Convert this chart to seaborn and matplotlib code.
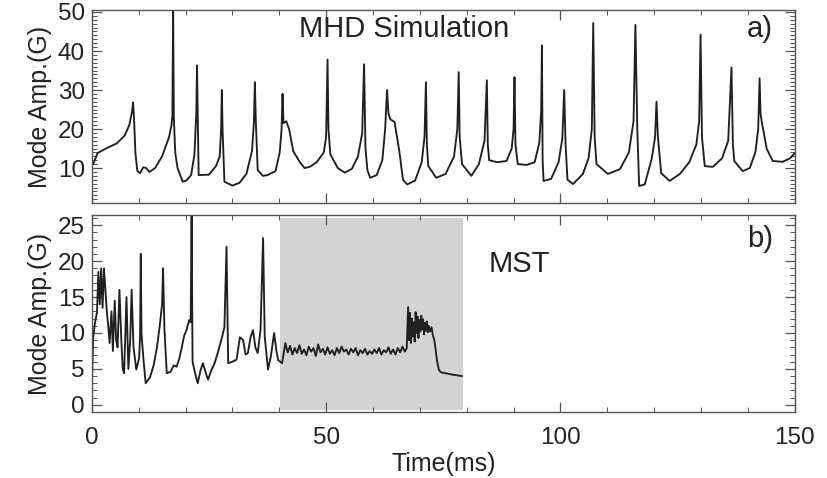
import numpy as np
import pandas as pd
import matplotlib
matplotlib.use("Agg")
import matplotlib.pyplot as plt
from matplotlib.ticker import MultipleLocator
import seaborn as sns


# DATA

# panel a) MHD simulation
mhd_time = [
    0.3, 1.2, 3.0, 5.3, 7.0, 8.0, 8.6, 8.8, 9.0, 9.3,
    9.7, 10.3, 11.0, 11.6, 12.3, 13.5, 15.0, 16.5, 17.0, 17.2,
    17.35, 17.5, 17.8, 18.3, 19.4, 20.2, 21.2, 21.9, 22.3, 22.45,
    22.6, 22.8, 25.0, 26.5, 27.3, 27.6, 27.75, 27.9, 28.3, 30.0,
    31.5, 33.0, 34.2, 34.6, 34.8, 35.0, 35.4, 36.5, 37.5, 39.2,
    40.1, 40.5, 40.7, 40.9, 41.5, 42.1, 43.0, 44.4, 45.4, 46.5,
    48.0, 49.5, 50.0, 50.3, 50.5, 50.9, 52.5, 54.0, 55.5, 56.8,
    57.7, 58.1, 58.4, 58.8, 59.4, 60.8, 62.0, 62.6, 63.0, 63.3,
    63.7, 64.6, 65.6, 66.4, 67.3, 69.0, 70.4, 71.0, 71.3, 71.5,
    71.8, 73.5, 75.5, 77.3, 78.0, 78.3, 78.5, 79.0, 81.0, 82.6,
    83.8, 84.3, 84.5, 84.8, 86.5, 88.5, 89.6, 90.0, 90.2, 90.4,
    90.9, 92.8, 94.5, 95.5, 95.9, 96.05, 96.2, 96.4, 98.0, 99.6,
    100.4, 100.8, 101.1, 101.5, 102.7, 104.8, 106.0, 106.7, 107.0, 107.3,
    107.7, 108.4, 110.1, 112.7, 114.6, 115.6, 116.0, 116.4, 116.8, 118.0,
    119.5, 120.2, 120.5, 120.8, 121.5, 123.3, 125.5, 127.5, 129.0, 129.6,
    129.9, 130.2, 130.8, 132.5, 134.5, 135.8, 136.5, 136.8, 137.1, 138.9,
    140.4, 141.6, 142.2, 142.5, 142.7, 143.0, 143.4, 144.0, 145.3, 147.4,
    149.0, 150.0,
]
mhd_amp = [
    11.0, 13.8, 15.0, 16.3, 18.3, 21.0, 24.5, 26.8, 23.0, 14.0,
    9.3, 8.7, 10.2, 10.0, 9.0, 10.0, 13.0, 18.0, 21.0, 23.5,
    52.0, 23.0, 14.0, 10.0, 6.5, 6.8, 8.2, 13.5, 24.0, 36.3,
    24.0, 8.2, 8.3, 10.5, 13.0, 20.0, 30.0, 20.0, 6.5, 5.5,
    6.2, 8.5, 14.5, 22.0, 32.0, 22.0, 9.5, 8.0, 8.2, 9.2,
    14.0, 20.0, 29.0, 21.5, 22.0, 20.0, 14.3, 11.5, 10.0, 10.3,
    11.5, 14.0, 18.0, 37.8, 20.0, 13.5, 10.0, 8.8, 9.8, 13.0,
    19.0, 36.6, 15.0, 9.5, 7.5, 8.2, 12.0, 20.0, 30.0, 24.0,
    22.5, 21.8, 14.5, 7.0, 5.8, 6.8, 11.5, 18.0, 32.0, 16.0,
    10.5, 7.5, 8.5, 13.0, 20.0, 34.6, 18.0, 11.0, 8.0, 11.0,
    17.0, 32.5, 16.0, 12.0, 11.5, 11.8, 15.0, 20.0, 33.3, 16.0,
    11.0, 10.8, 11.5, 16.5, 25.0, 41.4, 12.0, 6.7, 7.2, 11.5,
    17.5, 30.0, 16.0, 7.0, 5.9, 8.5, 12.5, 20.0, 47.2, 18.0,
    11.0, 10.3, 8.5, 9.7, 14.0, 22.0, 46.7, 20.0, 5.4, 5.8,
    12.5, 18.0, 27.0, 18.0, 8.7, 6.7, 8.5, 11.5, 16.0, 22.0,
    44.2, 18.0, 10.5, 10.3, 12.5, 17.0, 35.8, 16.0, 11.8, 9.2,
    10.0, 14.0, 20.0, 33.0, 24.0, 21.5, 19.0, 15.0, 11.8, 11.6,
    12.5, 13.8,
]

# panel b) MST measurement
mst_time = [
    0.0, 0.3, 0.7, 1.1, 1.4, 1.7, 2.0, 2.3, 2.6, 2.9,
    3.2, 3.5, 3.8, 4.2, 4.5, 4.9, 5.2, 5.5, 5.9, 6.3,
    6.6, 6.9, 7.4, 7.8, 8.2, 8.5, 8.9, 9.5, 10.1, 10.3,
    10.45, 10.6, 11.0, 11.5, 12.4, 13.2, 13.9, 14.5, 15.0, 15.2,
    15.5, 16.0, 16.8, 17.5, 18.1, 18.7, 19.2, 19.7, 20.2, 20.8,
    21.1, 21.3, 21.5, 22.0, 22.6, 23.2, 23.7, 24.3, 24.8, 25.5,
    26.2, 27.0, 27.7, 28.3, 28.75, 29.1, 30.0, 30.9, 31.6, 32.3,
    32.8, 33.3, 33.9, 34.4, 34.9, 35.4, 36.0, 36.55, 36.9, 37.6,
    38.2, 38.9, 39.4, 39.8, 40.6, 41.3, 41.8, 42.3, 42.8, 43.3,
    43.8, 44.3, 44.8, 45.3, 45.8, 46.3, 46.8, 47.3, 47.8, 48.3,
    48.8, 49.3, 49.8, 50.3, 50.8, 51.3, 51.8, 52.3, 52.8, 53.3,
    53.8, 54.3, 54.8, 55.3, 55.8, 56.3, 56.8, 57.3, 57.8, 58.3,
    58.8, 59.3, 59.8, 60.3, 60.8, 61.3, 61.8, 62.3, 62.8, 63.3,
    63.8, 64.3, 64.8, 65.3, 65.8, 66.3, 66.8, 67.2, 67.5, 67.7,
    67.9, 68.1, 68.3, 68.5, 68.7, 68.9, 69.1, 69.3, 69.5, 69.7,
    69.9, 70.1, 70.3, 70.5, 70.7, 70.9, 71.1, 71.3, 71.5, 71.7,
    71.9, 72.2, 72.5, 72.8, 73.1, 73.4, 73.7, 74.1, 74.6, 75.5,
    77.0, 79.0,
]
mst_amp = [
    2.5, 9.5, 11.5, 12.8, 18.5, 14.0, 19.0, 13.5, 19.0, 16.0,
    13.0, 11.0, 8.6, 13.0, 7.5, 14.5, 9.0, 8.0, 16.0, 9.0,
    5.0, 4.4, 15.0, 5.0, 9.0, 16.0, 8.0, 4.9, 6.5, 9.5,
    21.0, 10.0, 6.5, 3.0, 3.8, 5.5, 8.0, 11.0, 14.0, 19.0,
    10.5, 4.4, 4.6, 5.5, 5.3, 6.5, 8.0, 9.6, 10.4, 11.8,
    11.5, 27.0, 6.0, 4.5, 3.0, 4.8, 5.8, 4.5, 3.5, 4.8,
    5.8, 7.5, 9.2, 10.8, 22.0, 5.8, 6.0, 6.3, 9.4, 9.0,
    7.0, 7.2, 9.5, 10.4, 8.0, 7.2, 10.4, 23.2, 9.5, 4.9,
    6.7, 10.0, 7.5, 6.2, 5.8, 8.6, 7.3, 8.2, 7.0, 7.9,
    7.2, 8.3, 7.1, 7.7, 6.9, 8.1, 7.4, 7.9, 6.8, 8.4,
    7.3, 7.8, 7.0, 8.0, 7.1, 7.6, 6.9, 7.9, 7.2, 8.1,
    7.4, 7.7, 7.0, 7.8, 7.3, 7.9, 6.9, 7.6, 7.2, 7.8,
    7.0, 7.5, 7.1, 7.7, 7.2, 7.9, 7.0, 7.6, 7.3, 8.0,
    7.1, 7.7, 7.0, 7.9, 7.3, 8.1, 7.4, 7.9, 13.6, 9.0,
    12.8, 8.6, 12.0, 9.5, 11.5, 8.8, 12.9, 10.0, 12.3, 9.3,
    11.8, 10.2, 12.4, 10.5, 11.9, 9.8, 11.4, 10.3, 11.6, 10.1,
    11.0, 10.2, 10.8, 9.6, 9.0, 7.5, 6.0, 4.8, 4.5, 4.4,
    4.2, 4.0,
]

shade_start, shade_end = 40.2, 79.2

mhd = pd.DataFrame({"time": mhd_time, "amp": mhd_amp})
mst = pd.DataFrame({"time": mst_time, "amp": mst_amp})


# STYLE

sns.set_theme(style="ticks")
plt.rcParams["font.family"] = ["Liberation Sans", "DejaVu Sans"]

line_color = "#202020"
frame_color = "#555555"
text_color = "#222222"

fig = plt.figure(figsize=(8.27, 4.78), dpi=100)
ax_a = fig.add_axes([0.111, 0.575, 0.850, 0.404])
ax_b = fig.add_axes([0.111, 0.138, 0.850, 0.412])


def style_axis(ax, y_major, y_minor):
    ax.set_xlim(0, 150)
    ax.xaxis.set_major_locator(MultipleLocator(50))
    ax.xaxis.set_minor_locator(MultipleLocator(10))
    ax.yaxis.set_major_locator(MultipleLocator(y_major))
    ax.yaxis.set_minor_locator(MultipleLocator(y_minor))
    ax.tick_params(which="both", direction="in", top=True, right=True,
                   color=frame_color, labelsize=17.5, labelcolor=text_color)
    ax.tick_params(which="major", length=7, width=0.9, pad=5)
    ax.tick_params(which="minor", length=3.5, width=0.7)
    ax.tick_params(axis="x", which="major", pad=11)
    for s in ax.spines.values():
        s.set_color(frame_color)
        s.set_linewidth(1.0)
    ax.set_xlabel("")
    ax.set_ylabel("Mode Amp.(G)", fontsize=18, color=text_color, labelpad=4)


# PANEL a)

sns.lineplot(data=mhd, x="time", y="amp", ax=ax_a, sort=False,
             estimator=None, color=line_color, linewidth=1.35)
ax_a.set_ylim(1, 50.5)
style_axis(ax_a, 10, 1)
ax_a.set_yticks([10, 20, 30, 40, 50])
ax_a.tick_params(axis="x", labelbottom=False)
ax_a.text(0.445, 0.9, "MHD Simulation", transform=ax_a.transAxes,
          ha="center", va="center", fontsize=21, color=text_color)
ax_a.text(0.95, 0.9, "a)", transform=ax_a.transAxes,
          ha="center", va="center", fontsize=21, color=text_color)


# PANEL b)

ax_b.axvspan(shade_start, shade_end, ymin=0.012, ymax=0.985,
             color="#d3d3d3", lw=0, zorder=0)
sns.lineplot(data=mst, x="time", y="amp", ax=ax_b, sort=False,
             estimator=None, color=line_color, linewidth=1.35)
ax_b.set_ylim(-1, 26.4)
style_axis(ax_b, 5, 1)
ax_b.set_yticks([0, 5, 10, 15, 20, 25])
ax_b.set_xticks([0, 50, 100, 150])
ax_b.text(0.608, 0.75, "MST", transform=ax_b.transAxes,
          ha="center", va="center", fontsize=21, color=text_color)
ax_b.text(0.95, 0.88, "b)", transform=ax_b.transAxes,
          ha="center", va="center", fontsize=21, color=text_color)
ax_b.set_xlabel("Time(ms)", fontsize=18, color=text_color, labelpad=2)

fig.align_ylabels([ax_a, ax_b])
fig.savefig("out.png", dpi=100)
plt.close(fig)
